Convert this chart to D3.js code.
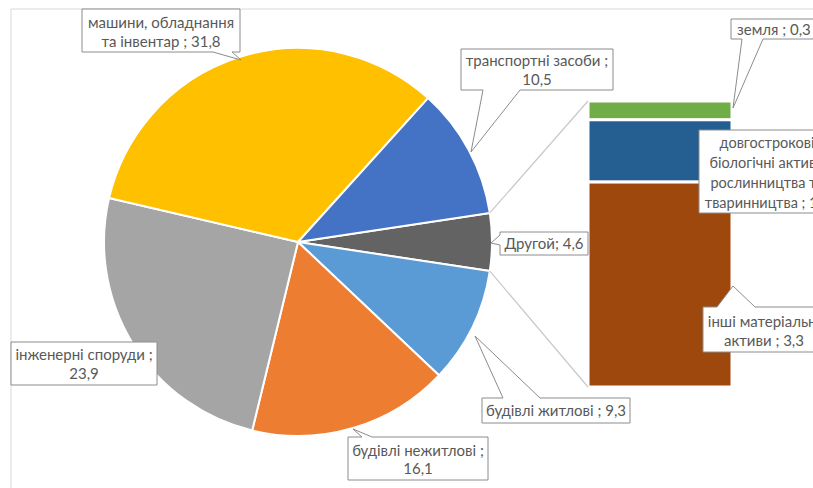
<!DOCTYPE html>
<html>
<head>
<meta charset="utf-8">
<script src="https://cdn.jsdelivr.net/npm/d3@7"></script>
<style>
  html, body { margin: 0; padding: 0; background: #fff; }
  svg { display: block; }
  text { font-family: Lato, "Noto Sans", sans-serif; font-size: 15px; fill: #595959; }
</style>
</head>
<body>
<svg id="chart" width="813" height="488"></svg>
<script>
// Main pie: structure of fixed assets (clockwise from the "other" slice)
const pieLabels = ["Другой", "будівлі житлові", "будівлі нежитлові", "інженерні споруди",
                   "машини, обладнання та інвентар", "транспортні засоби"];
const pieValues = [4.6, 9.3, 16.1, 23.9, 31.8, 10.5];
const pieColors = ["#636363", "#5B9BD5", "#ED7D31", "#A5A5A5", "#FFC000", "#4472C4"];

// Secondary bar: breakdown of the "other" slice (bottom to top)
const barLabels = ["інші матеріальні активи", "довгострокові біологічні активи рослинництва та тваринництва", "земля"];
const barValues = [3.3, 1.0, 0.3];
const barColors = ["#9E480E", "#255E91", "#70AD47"];

const fmt = v => d3.format(".1f")(v).replace(".", ",");

const svg = d3.select("#chart");

// chart area frame (extends past the visible window)
svg.append("path")
  .attr("d", "M11,488 V9 H813")
  .attr("fill", "none").attr("stroke", "#d9d9d9").attr("stroke-width", 1);

// ---- pie ----
const cx = 298, cy = 242, R = 194;
const total = d3.sum(pieValues);
const otherSpan = pieValues[0] / total * 2 * Math.PI;
const start = Math.PI / 2 - otherSpan / 2;

const pie = d3.pie().sort(null).value(d => d.v)
  .startAngle(start).endAngle(start + 2 * Math.PI);
const arcs = pie(pieLabels.map((l, i) => ({ l, v: pieValues[i], c: pieColors[i] })));
const arc = d3.arc().innerRadius(0).outerRadius(R);

const pg = svg.append("g").attr("transform", `translate(${cx},${cy})`);
pg.selectAll("path").data(arcs).join("path")
  .attr("d", arc)
  .attr("fill", d => d.data.c)
  .attr("stroke", "#fff").attr("stroke-width", 2).attr("stroke-linejoin", "round");

// ---- stacked bar of the "other" part ----
const barX = 588, barW = 144, barTop = 101, barBottom = 387;
const y = d3.scaleLinear().domain([0, d3.sum(barValues)]).range([barBottom, barTop]);
const stack = [];
let acc = 0;
barValues.forEach((v, i) => { stack.push({ v, c: barColors[i], y0: acc, y1: acc + v }); acc += v; });

svg.append("g").selectAll("rect").data(stack).join("rect")
  .attr("x", barX).attr("width", barW)
  .attr("y", d => y(d.y1)).attr("height", d => y(d.y0) - y(d.y1))
  .attr("fill", d => d.c)
  .attr("stroke", "#fff").attr("stroke-width", 3);

// connector lines from the "other" slice edges to the bar corners
const edgePt = a => [cx + R * Math.sin(a), cy - R * Math.cos(a)];
const o = arcs[0];
const pTop = edgePt(o.startAngle), pBot = edgePt(o.endAngle);
svg.append("g").attr("stroke", "#c8c8c8").attr("stroke-width", 1.2).attr("fill", "none")
  .selectAll("line").data([[pTop, [barX, y(acc)]], [pBot, [barX, y(0)]]]).join("line")
  .attr("x1", d => d[0][0]).attr("y1", d => d[0][1])
  .attr("x2", d => d[1][0]).attr("y2", d => d[1][1]);

// ---- callout labels ----
// box: x, y, w, h ; wedge: side, base start, base end, apex point
function calloutPath(b, w) {
  const x0 = b.x, y0 = b.y, x1 = b.x + b.w, y1 = b.y + b.h;
  if (!w) return `M${x0},${y0}H${x1}V${y1}H${x0}Z`;
  const [ax, ay] = w.apex;
  if (w.side === "bottom")
    return `M${x0},${y0}H${x1}V${y1}H${w.b2}L${ax},${ay}L${w.b1},${y1}H${x0}Z`;
  if (w.side === "top")
    return `M${x0},${y0}H${w.b1}L${ax},${ay}L${w.b2},${y0}H${x1}V${y1}H${x0}Z`;
  if (w.side === "left")
    return `M${x0},${y0}H${x1}V${y1}H${x0}V${w.b2}L${ax},${ay}L${x0},${w.b1}Z`;
  return "";
}

const labels = [
  { lines: ["машини, обладнання", "та інвентар ; " + fmt(pieValues[4])],
    box: { x: 82, y: 9, w: 158, h: 43 }, tx: 161, ty: [23, 42],
    wedge: { side: "bottom", b1: 213, b2: 232, apex: [241, 60] } },
  { lines: ["транспортні засоби ;", fmt(pieValues[5])],
    box: { x: 461, y: 49, w: 152, h: 41 }, tx: 537, ty: [61, 80],
    wedge: { side: "bottom", b1: 483, b2: 520, apex: [471, 152] } },
  { lines: ["Другой; " + fmt(pieValues[0])],
    box: { x: 500, y: 232, w: 88, h: 23 }, tx: 544, ty: [243.5],
    wedge: { side: "left", b1: 235, b2: 245, apex: [491, 243] } },
  { lines: ["будівлі житлові ; " + fmt(pieValues[1])],
    box: { x: 482, y: 398, w: 148, h: 25 }, tx: 556, ty: [410.5],
    wedge: { side: "top", b1: 503, b2: 540, apex: [475, 336] } },
  { lines: ["будівлі нежитлові ;", fmt(pieValues[2])],
    box: { x: 348, y: 437, w: 140, h: 43 }, tx: 418, ty: [451, 469],
    wedge: { side: "top", b1: 362, b2: 372, apex: [353, 429] } },
  { lines: ["інженерні споруди ;", fmt(pieValues[3])],
    box: { x: 11, y: 342, w: 146, h: 43 }, tx: 84, ty: [355, 374] },
  { lines: ["земля ; " + fmt(barValues[2])],
    box: { x: 731, y: 19, w: 100, h: 20 }, tx: 737, anchor: "start", ty: [29.5],
    wedge: { side: "bottom", b1: 742, b2: 763, apex: [733, 108] } },
  { lines: ["довгострокові", "біологічні активи", "рослинництва та", "тваринництва ; " + fmt(barValues[1])],
    box: { x: 699, y: 130, w: 140, h: 83 }, tx: 767, ty: [143, 163, 183, 203], size: 14.5 },
  { lines: ["інші матеріальні", "активи ; " + fmt(barValues[0])],
    box: { x: 703, y: 307, w: 120, h: 45 }, tx: 764, ty: [322, 341],
    wedge: { side: "top", b1: 717, b2: 755, apex: [733, 286] } }
];

const lg = svg.append("g");
labels.forEach(L => {
  lg.append("path").attr("d", calloutPath(L.box, L.wedge))
    .attr("fill", "#fff").attr("stroke", "#8c8c8c").attr("stroke-width", 1)
    .attr("stroke-linejoin", "miter");
  L.lines.forEach((t, i) => {
    const tx = lg.append("text").attr("x", L.tx).attr("y", L.ty[i])
      .attr("dy", "0.35em")
      .attr("text-anchor", L.anchor || "middle")
      .text(t);
    if (L.size) tx.style("font-size", L.size + "px");
  });
});
</script>
</body>
</html>
